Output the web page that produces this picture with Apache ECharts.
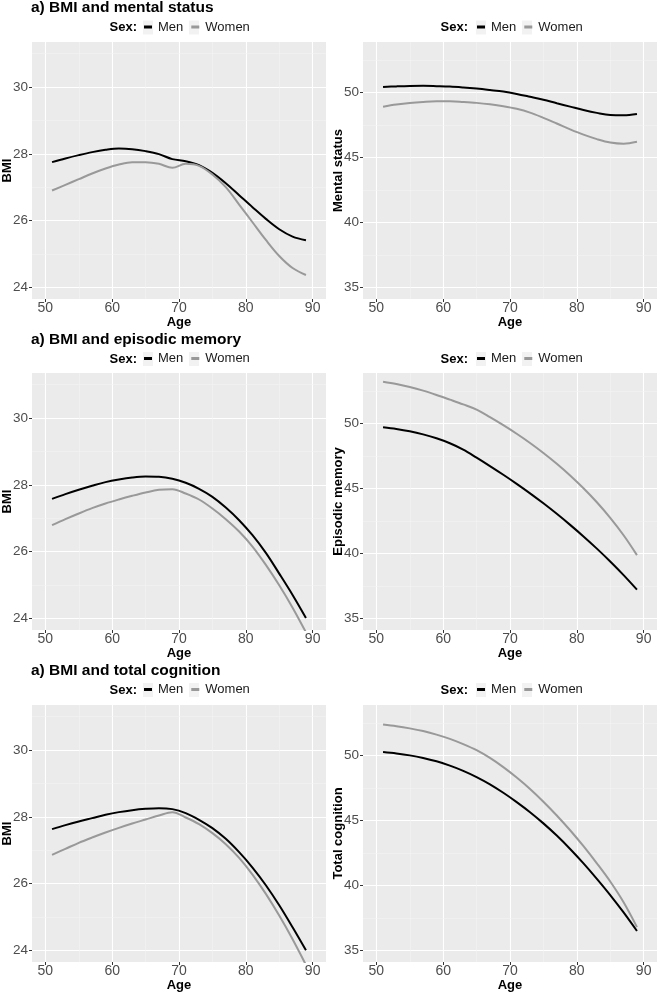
<!DOCTYPE html>
<html><head><meta charset="utf-8">
<script src="https://cdn.jsdelivr.net/npm/echarts@6/dist/echarts.min.js"></script>
<style>html,body{margin:0;padding:0;background:#fff}#c{width:660px;height:992px}</style>
</head><body><div id="c"></div>
<script>
// ---------- data ----------
const ages = [51,53,55,57,59,61,63,65,67,69,71,73,75,77,79,81,83,85,87,89];
const xTicks = [50,60,70,80,90];
const xMinor = [55,65,75,85];
const bmiTicks = [24,26,28,30];
const bmiMinor = [25,27,29,31];
const scoreTicks = [35,40,45,50];
const scoreMinor = [37.5,42.5,47.5,52.5];
const rowTitles = ['a) BMI and mental status','a) BMI and episodic memory','a) BMI and total cognition'];
const yNames = ['BMI','Mental status','BMI','Episodic memory','BMI','Total cognition'];
const sexLabel = 'Sex:';
const groups = ['Men','Women'];

const bmiMentalMen   = [27.75,27.86,27.96,28.05,28.12,28.16,28.14,28.08,27.99,27.84,27.78,27.66,27.43,27.12,26.76,26.40,26.05,25.74,25.52,25.41];
const bmiMentalWomen = [26.90,27.07,27.24,27.41,27.56,27.68,27.75,27.75,27.70,27.58,27.70,27.64,27.38,27.00,26.48,25.95,25.42,24.94,24.58,24.37];
const mentalMen      = [50.44,50.48,50.51,50.52,50.50,50.47,50.40,50.31,50.20,50.08,49.90,49.68,49.45,49.18,48.92,48.66,48.44,48.28,48.26,48.36];
const mentalWomen    = [48.92,49.08,49.20,49.28,49.33,49.33,49.28,49.21,49.10,48.95,48.75,48.46,48.06,47.62,47.17,46.76,46.42,46.16,46.07,46.22];
const bmiEpiMen      = [27.58,27.72,27.85,27.97,28.08,28.16,28.22,28.25,28.24,28.18,28.06,27.88,27.64,27.32,26.94,26.49,25.96,25.34,24.70,24.01];
const bmiEpiWomen    = [26.79,26.97,27.14,27.30,27.44,27.56,27.67,27.77,27.85,27.87,27.74,27.56,27.29,26.97,26.60,26.15,25.60,24.99,24.32,23.58];
const epiMen         = [49.72,49.59,49.41,49.17,48.87,48.49,48.00,47.38,46.73,46.06,45.36,44.63,43.86,43.05,42.20,41.31,40.37,39.38,38.33,37.21];
const epiWomen       = [53.23,53.05,52.82,52.54,52.21,51.85,51.48,51.08,50.50,49.88,49.22,48.51,47.74,46.91,46.01,45.02,43.94,42.74,41.40,39.87];
const bmiTotMen      = [27.63,27.75,27.86,27.96,28.06,28.14,28.20,28.24,28.26,28.23,28.11,27.91,27.66,27.34,26.94,26.48,25.95,25.35,24.69,24.00];
const bmiTotWomen    = [26.86,27.04,27.22,27.38,27.53,27.67,27.80,27.92,28.04,28.14,27.98,27.78,27.51,27.18,26.77,26.27,25.69,25.04,24.33,23.56];
const totMen         = [50.28,50.17,50.02,49.82,49.56,49.23,48.83,48.35,47.79,47.14,46.42,45.64,44.78,43.84,42.81,41.70,40.51,39.26,37.92,36.49];
const totWomen       = [52.40,52.27,52.10,51.89,51.62,51.29,50.89,50.42,49.82,49.11,48.31,47.43,46.45,45.39,44.25,43.02,41.70,40.30,38.70,36.79];

const panelData = [
  [bmiMentalMen, bmiMentalWomen], [mentalMen, mentalWomen],
  [bmiEpiMen, bmiEpiWomen], [epiMen, epiWomen],
  [bmiTotMen, bmiTotWomen], [totMen, totWomen]
];

// ---------- layout & style ----------
const FONT = 'Liberation Sans, Arial, Helvetica, sans-serif';
const colLeft = [32, 363];
const plotW = 294, plotH = 257;
const rowTop = [42, 373, 705];
const titleTop = [0, 332, 663];
const legendMid = [27.5, 359, 690];
const legendLeft = [144, 477];
const sexRight = [137, 468];
const xRange = [48, 92];
const bmiRange = [23.65, 31.35];
const scoreRange = [34.1, 53.9];
const colors = ['#000000', '#999999'];

const grid = [], xAxis = [], yAxis = [], series = [], title = [], legend = [], graphic = [];

for (let r = 0; r < 3; r++) {
  title.push({ text: rowTitles[r], left: 31, top: titleTop[r], padding: 0,
    textStyle: { fontFamily: FONT, fontWeight: 'bold', fontSize: 15.5, color: '#000' } });
}

for (let p = 0; p < 6; p++) {
  const r = Math.floor(p / 2), c = p % 2;
  const isBmi = c === 0;
  grid.push({ left: colLeft[c], top: rowTop[r], width: plotW, height: plotH, show: true,
    outerBoundsMode: 'none', containLabel: false,
    backgroundColor: '#EBEBEB', borderWidth: 0 });
  xAxis.push({ type: 'value', gridIndex: p, min: xRange[0], max: xRange[1],
    name: 'Age', nameLocation: 'middle', nameGap: 16.5, nameMoveOverlap: false,
    nameTextStyle: { fontFamily: FONT, fontWeight: 'bold', fontSize: 13, color: '#000' },
    axisLine: { show: false },
    axisTick: { show: true, length: 3, customValues: xTicks, lineStyle: { color: '#333', width: 1 } },
    axisLabel: { customValues: xTicks, margin: 2, fontFamily: FONT, fontSize: 14, color: '#4D4D4D' },
    splitLine: { show: true, lineStyle: { color: '#FFFFFF', width: 1.1 } } });
  const ticks = isBmi ? bmiTicks : scoreTicks;
  const rng = isBmi ? bmiRange : scoreRange;
  yAxis.push({ type: 'value', gridIndex: p, min: rng[0], max: rng[1],
    name: yNames[p], nameLocation: 'middle', nameGap: 18, nameMoveOverlap: false,
    nameTextStyle: { fontFamily: FONT, fontWeight: 'bold', fontSize: 13, color: '#000' },
    axisLine: { show: false },
    axisTick: { show: true, length: 3, customValues: ticks, lineStyle: { color: '#333', width: 1 } },
    axisLabel: { customValues: ticks, margin: 4, fontFamily: FONT, fontSize: 13.5, color: '#4D4D4D' },
    splitLine: { show: true, lineStyle: { color: '#FFFFFF', width: 1.1 } } });

  // minor grid lines
  const minorY = isBmi ? bmiMinor : scoreMinor;
  series.push({ type: 'line', xAxisIndex: p, yAxisIndex: p, data: [], z: 1, silent: true,
    markLine: { silent: true, z: 1, symbol: 'none', label: { show: false }, animation: false,
      lineStyle: { color: '#F4F4F4', width: 0.6, type: 'solid' },
      data: xMinor.map(v => ({ xAxis: v })).concat(minorY.map(v => ({ yAxis: v }))) } });

  for (let g = 0; g < 2; g++) {
    series.push({ name: groups[g], type: 'line', xAxisIndex: p, yAxisIndex: p, z: 3,
      data: ages.map((a, i) => [a, panelData[p][g][i]]),
      showSymbol: false, smooth: 0.35, clip: true, animation: false,
      lineStyle: { color: colors[g], width: 2 }, itemStyle: { color: colors[g] } });
  }

  legend.push({ left: legendLeft[c], top: legendMid[r] - 7, padding: 0, itemGap: 8, z: 5,
    itemWidth: 8, itemHeight: 3, icon: 'rect', selectedMode: false,
    data: groups.map((n, g) => ({ name: n, itemStyle: { color: colors[g] } })),
    textStyle: { fontFamily: FONT, fontSize: 13, color: '#1A1A1A', padding: [0, 0, 0, 1] } });
  graphic.push({ type: 'text', x: sexRight[c], y: legendMid[r],
    style: { text: sexLabel, align: 'right', verticalAlign: 'middle',
      font: 'bold 13px ' + FONT, fill: '#000' } });
  // legend key backgrounds (ggplot style)
  [0, 46].forEach(dx => graphic.push({ type: 'rect', z: 0,
    shape: { x: legendLeft[c] - 1 + dx, y: legendMid[r] - 7, width: 10, height: 14 },
    style: { fill: '#F2F2F2' } }));
}

const chart = echarts.init(document.getElementById('c'), null, { renderer: 'canvas' });
chart.setOption({ animation: false, backgroundColor: '#FFFFFF', title, grid, xAxis, yAxis, series, legend, graphic });
</script></body></html>
